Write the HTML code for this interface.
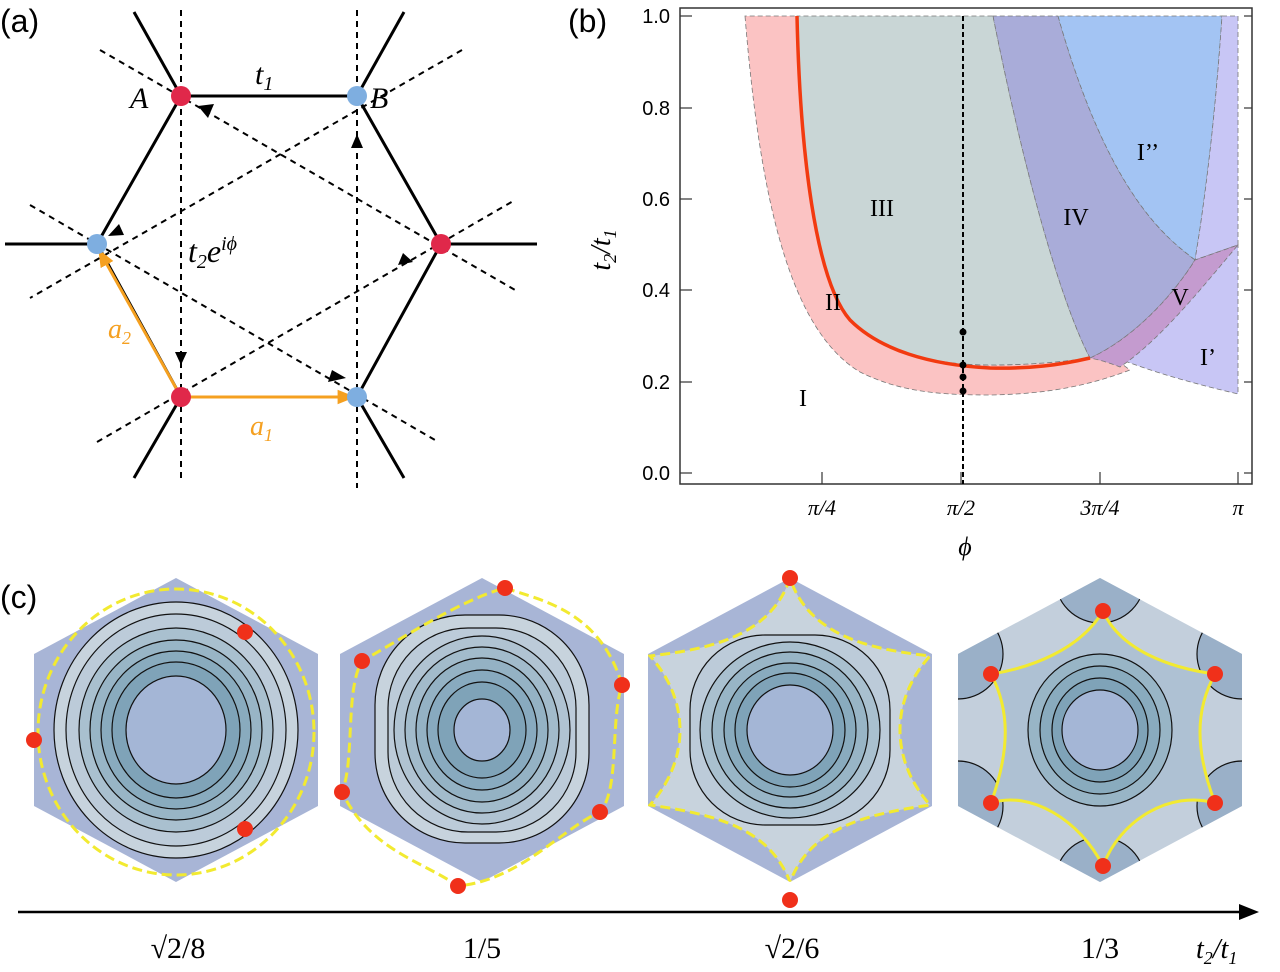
<!DOCTYPE html>
<html><head><meta charset="utf-8"><style>
body{margin:0;background:#fff}
svg{display:block}
text{font-family:"Liberation Serif",serif}
text.s,.s text{font-family:"Liberation Sans",sans-serif}
</style></head><body>
<svg width="1280" height="972" viewBox="0 0 1280 972" xmlns="http://www.w3.org/2000/svg">
<defs>
<marker id="ao" viewBox="0 0 10 10" refX="8" refY="5" markerWidth="6" markerHeight="6" orient="auto"><path d="M0,1 L10,5 L0,9z" fill="#f5a020"/></marker>
<marker id="ax" viewBox="0 0 10 10" refX="8" refY="5" markerWidth="8" markerHeight="8" orient="auto"><path d="M0,1 L10,5 L0,9z" fill="#000"/></marker>
<clipPath id="c1"><polygon points="176,578 318,654 318,806 176,882 34,806 34,654"/></clipPath>
<clipPath id="c2"><polygon points="482,578 624,654 624,806 482,882 340,806 340,654"/></clipPath>
<clipPath id="c3"><polygon points="790,578 932,654 932,806 790,882 648,806 648,654"/></clipPath>
<clipPath id="c4"><polygon points="1100,578 1242,654 1242,806 1100,882 958,806 958,654"/></clipPath>
</defs>
<!-- Panel a -->
<text x="0" y="32" class="s" font-size="32">(a)</text>
<g stroke="#000" stroke-width="3" fill="none">
<polygon points="181,96 357,96 441,244 357,397 181,397 97,244"/>
<line x1="181" y1="96" x2="134" y2="12"/><line x1="357" y1="96" x2="404" y2="12"/>
<line x1="97" y1="244" x2="5" y2="244"/><line x1="441" y1="244" x2="537" y2="244"/>
<line x1="181" y1="397" x2="134" y2="478"/><line x1="357" y1="397" x2="404" y2="478"/>
</g>
<g stroke="#000" stroke-width="2" stroke-dasharray="6,5" fill="none">
<line x1="181" y1="10" x2="181" y2="482"/><line x1="357" y1="10" x2="357" y2="488"/>
<line x1="100" y1="50" x2="515" y2="290"/><line x1="462" y1="50" x2="30" y2="298"/>
<line x1="97" y1="442" x2="515" y2="200"/><line x1="30" y1="205" x2="435" y2="440"/>
</g>
<g fill="#000">
<path d="M198,106 l16,-2 l-6,14z"/><path d="M357,134 l-6,14 h12z"/>
<path d="M108,236 l16,-1 l-5,-11z"/><path d="M413,262 l-15,3 l5,-12z"/>
<path d="M181,365 l-6,-13 h12z"/><path d="M346,378 l-14,-8 l-4,12z"/>
</g>
<line x1="181" y1="397" x2="352" y2="397" stroke="#f5a020" stroke-width="3" marker-end="url(#ao)"/>
<line x1="181" y1="397" x2="100" y2="252" stroke="#f5a020" stroke-width="3" marker-end="url(#ao)"/>
<g>
<circle cx="181" cy="96" r="10" fill="#e0284a"/><circle cx="357" cy="96" r="10" fill="#7eaee0"/>
<circle cx="441" cy="244" r="10" fill="#e0284a"/><circle cx="97" cy="244" r="10" fill="#7eaee0"/>
<circle cx="181" cy="397" r="10" fill="#e0284a"/><circle cx="357" cy="397" r="10" fill="#7eaee0"/>
</g>
<text x="130" y="108" font-size="30" font-style="italic">A</text>
<text x="370" y="108" font-size="30" font-style="italic">B</text>
<text x="255" y="84" font-size="30" font-style="italic">t<tspan font-size="20" dy="6">1</tspan></text>
<text x="188" y="262" font-size="32" font-style="italic">t<tspan font-size="20" dy="6">2</tspan><tspan dy="-6">e</tspan><tspan font-size="20" dy="-12">iϕ</tspan></text>
<text x="108" y="338" font-size="28" font-style="italic" fill="#f5a020">a<tspan font-size="18" dy="6">2</tspan></text>
<text x="250" y="435" font-size="28" font-style="italic" fill="#f5a020">a<tspan font-size="18" dy="6">1</tspan></text>

<!-- Panel b -->
<text x="568" y="32" class="s" font-size="32">(b)</text>
<g stroke="#777" stroke-width="0.8" stroke-dasharray="5,3">
<path d="M745,16 C760,200 790,330 860,372 C900,392 940,395 990,395 C1050,394 1090,385 1130,370 L1110,355 C1060,362 1030,365 990,365 C930,365 880,350 850,320 C815,280 800,150 797,16Z" fill="#fbc3c3"/>
<path d="M797,16 C800,150 815,280 850,320 C880,350 930,365 990,365 C1030,365 1060,362 1090,358 C1065,310 1030,200 993,16Z" fill="#c9d6d6"/>
<path d="M993,16 C1030,200 1065,310 1090,358 C1130,340 1170,300 1195,260 C1170,240 1110,200 1058,16Z" fill="#a9acd9"/>
<path d="M1058,16 C1110,200 1170,240 1195,260 C1205,200 1215,120 1222,16Z" fill="#a3c4f3"/>
<path d="M1222,16 L1238,16 L1238,245 L1195,260 C1205,200 1215,120 1222,16Z" fill="#c8c6f5"/>
<path d="M1110,355 C1150,372 1200,385 1238,394 L1238,245 L1195,260 C1170,300 1150,330 1130,350Z" fill="#c8c6f5"/>
<path d="M1090,358 C1130,340 1170,300 1195,260 L1238,245 C1200,290 1160,340 1120,367 C1110,363 1100,360 1090,358Z" fill="#c49bcf"/>
</g>
<path d="M797,16 C800,150 815,280 850,320 C880,350 930,365 990,368 C1030,369 1060,365 1090,358" stroke="#f23a10" stroke-width="3.5" fill="none"/>
<rect x="680" y="8" width="572" height="476" fill="none" stroke="#333" stroke-width="1.5"/>
<g stroke="#333" stroke-width="1.2">
<line x1="680" y1="16" x2="692" y2="16"/><line x1="680" y1="108" x2="692" y2="108"/><line x1="680" y1="199" x2="692" y2="199"/><line x1="680" y1="290" x2="692" y2="290"/><line x1="680" y1="382" x2="692" y2="382"/><line x1="680" y1="473" x2="692" y2="473"/>
<line x1="1252" y1="16" x2="1244" y2="16"/><line x1="1252" y1="108" x2="1244" y2="108"/><line x1="1252" y1="199" x2="1244" y2="199"/><line x1="1252" y1="290" x2="1244" y2="290"/><line x1="1252" y1="382" x2="1244" y2="382"/><line x1="1252" y1="473" x2="1244" y2="473"/>
<line x1="822" y1="484" x2="822" y2="472"/><line x1="961" y1="484" x2="961" y2="472"/><line x1="1100" y1="484" x2="1100" y2="472"/><line x1="1238" y1="484" x2="1238" y2="472"/>
</g>
<line x1="963" y1="16" x2="963" y2="484" stroke="#000" stroke-width="2" stroke-dasharray="5,3"/>
<g fill="#000"><circle cx="963" cy="332" r="3.5"/><circle cx="963" cy="365" r="3.5"/><circle cx="963" cy="377" r="3.5"/><circle cx="963" cy="391" r="3.5"/></g>
<g class="s" font-size="20" text-anchor="end">
<text x="670" y="23">1.0</text><text x="670" y="115">0.8</text><text x="670" y="206">0.6</text><text x="670" y="297">0.4</text><text x="670" y="389">0.2</text><text x="670" y="480">0.0</text>
</g>
<g font-size="22" font-style="italic" text-anchor="middle">
<text x="822" y="515">π/4</text><text x="961" y="515">π/2</text><text x="1100" y="515">3π/4</text><text x="1238" y="515">π</text>
<text x="965" y="555" font-size="26">ϕ</text>
</g>
<text transform="translate(610,250) rotate(-90)" font-size="28" font-style="italic" text-anchor="middle">t<tspan font-size="18" dy="6">2</tspan><tspan dy="-6">/t</tspan><tspan font-size="18" dy="6">1</tspan></text>
<g font-size="24" text-anchor="middle">
<text x="882" y="216">III</text><text x="1076" y="225">IV</text><text x="1148" y="160">I’’</text>
<text x="833" y="310">II</text><text x="1180" y="305">V</text><text x="1208" y="365">I’</text><text x="803" y="406">I</text>
</g>

<!-- Panel c -->
<text x="0" y="608" class="s" font-size="32">(c)</text>
<g clip-path="url(#c1)">
<rect x="30" y="570" width="300" height="320" fill="#a8b5d6"/>
<g stroke="#111" stroke-width="1.2">
<ellipse cx="176" cy="730" rx="122" ry="128" fill="#c7d3dd"/>
<ellipse cx="176" cy="730" rx="110" ry="116" fill="#bccbd9"/>
<ellipse cx="176" cy="730" rx="97" ry="102" fill="#a9c0cf"/>
<ellipse cx="176" cy="730" rx="86" ry="90" fill="#98b5c6"/>
<ellipse cx="176" cy="730" rx="75" ry="79" fill="#89abbe"/>
<ellipse cx="176" cy="730" rx="64" ry="68" fill="#7fa3b8"/>
<ellipse cx="176" cy="730" rx="50" ry="54" fill="#a4b6d6"/>
</g>
</g>
<ellipse cx="176" cy="732" rx="138" ry="143" fill="none" stroke="#f2ea30" stroke-width="3" stroke-dasharray="10,5"/>
<circle cx="245" cy="632" r="8" fill="#f0301a"/><circle cx="245" cy="829" r="8" fill="#f0301a"/><circle cx="34" cy="740" r="8" fill="#f0301a"/>

<g clip-path="url(#c2)">
<rect x="336" y="570" width="300" height="320" fill="#a8b5d6"/>
<g stroke="#111" stroke-width="1.2">
<rect x="375" y="615" width="214" height="228" rx="90" fill="#c7d3dd"/>
<rect x="388" y="628" width="188" height="204" rx="80" fill="#bccbd9"/>
<ellipse cx="482" cy="730" rx="88" ry="94" fill="#b0c3d2"/>
<ellipse cx="482" cy="730" rx="77" ry="83" fill="#a2bbcb"/>
<ellipse cx="482" cy="730" rx="66" ry="72" fill="#94b2c4"/>
<ellipse cx="482" cy="730" rx="55" ry="60" fill="#88aabf"/>
<ellipse cx="482" cy="730" rx="44" ry="48" fill="#7fa3b8"/>
<ellipse cx="482" cy="730" rx="28" ry="31" fill="#a4b6d6"/>
</g>
</g>
<path d="M505,588 C540,600 600,610 622,685 C610,720 620,790 600,812 C560,830 520,880 458,886 C420,860 370,850 342,792 C355,760 345,690 362,661 C400,640 460,600 505,588Z" fill="none" stroke="#f2ea30" stroke-width="3" stroke-dasharray="10,5"/>
<circle cx="505" cy="588" r="8" fill="#f0301a"/><circle cx="622" cy="685" r="8" fill="#f0301a"/><circle cx="600" cy="812" r="8" fill="#f0301a"/><circle cx="458" cy="886" r="8" fill="#f0301a"/><circle cx="342" cy="792" r="8" fill="#f0301a"/><circle cx="362" cy="661" r="8" fill="#f0301a"/>

<g clip-path="url(#c3)">
<rect x="640" y="570" width="300" height="320" fill="#a8b5d6"/>
<path d="M790,578 C770,640 700,650 650,656 C690,700 690,760 650,805 C720,815 770,830 790,882 C810,830 860,815 930,805 C890,760 890,700 930,656 C880,650 810,640 790,578Z" fill="#c8d3dd" stroke="#f2ea30" stroke-width="3" stroke-dasharray="10,5"/>
<g stroke="#111" stroke-width="1.2">
<rect x="690" y="635" width="200" height="190" rx="75" fill="#bccbd9"/>
<ellipse cx="790" cy="730" rx="90" ry="88" fill="#a9c0cf"/>
<ellipse cx="790" cy="730" rx="78" ry="78" fill="#98b5c6"/>
<ellipse cx="790" cy="730" rx="66" ry="67" fill="#89abbe"/>
<ellipse cx="790" cy="730" rx="55" ry="57" fill="#7fa3b8"/>
<ellipse cx="790" cy="730" rx="43" ry="45" fill="#a4b6d6"/>
</g>
</g>
<circle cx="790" cy="578" r="8" fill="#f0301a"/><circle cx="790" cy="900" r="8" fill="#f0301a"/>

<g clip-path="url(#c4)">
<rect x="950" y="570" width="300" height="320" fill="#c3cfdc"/>
<g fill="#9ab0c8" stroke="#111" stroke-width="1.2">
<circle cx="1100" cy="578" r="45"/><circle cx="1100" cy="882" r="45"/>
<circle cx="1242" cy="654" r="45"/><circle cx="1242" cy="806" r="45"/>
<circle cx="958" cy="654" r="45"/><circle cx="958" cy="806" r="45"/>
</g>
<path d="M1103,611 C1120,650 1170,668 1215,674 C1195,710 1195,750 1215,803 C1170,790 1120,820 1103,866 C1080,820 1030,790 991,803 C1010,750 1010,710 991,674 C1030,668 1080,650 1103,611Z" fill="#aec1d3" stroke="#f2ea30" stroke-width="3"/>
<g stroke="#111" stroke-width="1.2">
<ellipse cx="1100" cy="730" rx="72" ry="76" fill="#98b5c6"/>
<ellipse cx="1100" cy="730" rx="60" ry="64" fill="#89abbe"/>
<ellipse cx="1100" cy="730" rx="48" ry="52" fill="#7fa3b8"/>
<ellipse cx="1100" cy="730" rx="38" ry="40" fill="#a4b6d6"/>
</g>
</g>
<circle cx="1103" cy="611" r="8" fill="#f0301a"/><circle cx="1103" cy="866" r="8" fill="#f0301a"/>
<circle cx="1215" cy="674" r="8" fill="#f0301a"/><circle cx="1215" cy="803" r="8" fill="#f0301a"/>
<circle cx="991" cy="674" r="8" fill="#f0301a"/><circle cx="991" cy="803" r="8" fill="#f0301a"/>

<line x1="18" y1="912" x2="1255" y2="912" stroke="#000" stroke-width="2.5" marker-end="url(#ax)"/>
<g font-size="30" text-anchor="middle">
<text x="178" y="958">√2/8</text><text x="482" y="958">1/5</text><text x="792" y="958">√2/6</text><text x="1100" y="958">1/3</text>
</g>
<text x="1196" y="958" font-size="28" font-style="italic">t<tspan font-size="18" dy="6">2</tspan><tspan dy="-6">/t</tspan><tspan font-size="18" dy="6">1</tspan></text>
</svg>
</body></html>
